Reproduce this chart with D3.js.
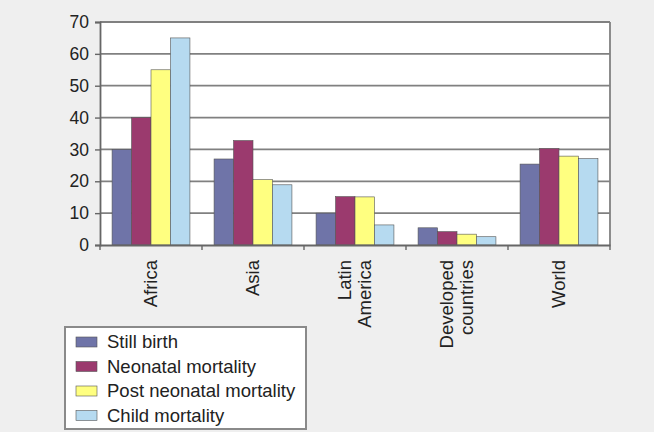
<!DOCTYPE html>
<html>
<head>
<meta charset="utf-8">
<script src="https://cdn.jsdelivr.net/npm/d3@7"></script>
<style>
  html, body { margin: 0; padding: 0; background: #efefef; }
  svg { display: block; }
  text { font-family: "Liberation Sans", Arial, sans-serif; fill: #222; }
</style>
</head>
<body>
<svg id="chart" width="654" height="432"></svg>
<script>
const categories = [["Africa"], ["Asia"], ["Latin", "America"], ["Developed", "countries"], ["World"]];
const seriesNames = ["Still birth", "Neonatal mortality", "Post neonatal mortality", "Child mortality"];
const stillBirth = [30, 27, 10, 5.4, 25.4];
const neonatal = [40, 32.8, 15.2, 4.2, 30.3];
const postNeonatal = [55, 20.5, 15.1, 3.4, 27.9];
const childMortality = [65, 18.9, 6.3, 2.6, 27.1];
const yTicks = [0, 10, 20, 30, 40, 50, 60, 70];
const colors = ["#6f74a8", "#9b3a6e", "#ffff80", "#b6daf0"];

const seriesValues = [stillBirth, neonatal, postNeonatal, childMortality];
const rows = categories.map((c, i) => ({
  key: c.join(" "), lines: c,
  values: seriesValues.map((s, j) => ({ series: j, value: s[i] }))
}));

const svg = d3.select("#chart");
const plot = { left: 100, right: 610, top: 22, bottom: 245 };

const x0 = d3.scaleBand().domain(rows.map(d => d.key))
  .range([plot.left, plot.right]).paddingInner(0).paddingOuter(0);
const x1 = d3.scaleBand().domain(d3.range(seriesNames.length))
  .range([0, x0.bandwidth()]).paddingInner(0).paddingOuter(0.62);
const y = d3.scaleLinear().domain([0, 70]).range([plot.bottom, plot.top]);

// plot background
svg.append("rect").attr("x", plot.left).attr("y", plot.top)
  .attr("width", plot.right - plot.left).attr("height", plot.bottom - plot.top)
  .attr("fill", "#ffffff");

// gridlines
svg.append("g").selectAll("line").data(yTicks.filter(t => t > 0)).join("line")
  .attr("x1", plot.left).attr("x2", plot.right)
  .attr("y1", d => y(d)).attr("y2", d => y(d))
  .attr("stroke", "#808080").attr("stroke-width", 1.8);

// right border
svg.append("line").attr("x1", plot.right).attr("x2", plot.right)
  .attr("y1", plot.top).attr("y2", plot.bottom)
  .attr("stroke", "#808080").attr("stroke-width", 1.8);

// bars
const groups = svg.append("g").selectAll("g").data(rows).join("g")
  .attr("transform", d => `translate(${x0(d.key)},0)`);
groups.selectAll("rect").data(d => d.values).join("rect")
  .attr("x", d => x1(d.series))
  .attr("width", x1.bandwidth())
  .attr("y", d => y(d.value))
  .attr("height", d => y(0) - y(d.value))
  .attr("fill", d => colors[d.series])
  .attr("stroke", "#555")
  .attr("stroke-width", 0.6);

// y axis
const yAxis = d3.axisLeft(y).tickValues(yTicks).tickSize(5).tickPadding(6);
const gy = svg.append("g").attr("transform", `translate(${plot.left},0)`).call(yAxis);
gy.select(".domain").attr("stroke", "#666").attr("stroke-width", 1.8);
gy.selectAll(".tick line").attr("stroke", "#666").attr("stroke-width", 1.4);
gy.selectAll(".tick text").style("font-size", "17.5px").attr("fill", "#222");

// x axis
const xAxis = d3.axisBottom(x0).tickSize(0).tickFormat("");
const gx = svg.append("g").attr("transform", `translate(0,${plot.bottom})`).call(xAxis);
gx.select(".domain").attr("stroke", "#666").attr("stroke-width", 1.8);
gx.selectAll(".tick").remove();
const bounds = rows.map(d => x0(d.key)).concat([plot.right]);
gx.selectAll("line.bt").data(bounds).join("line").attr("class", "bt")
  .attr("x1", d => d).attr("x2", d => d).attr("y1", 0).attr("y2", 5)
  .attr("stroke", "#666").attr("stroke-width", 1.4);

// category labels, rotated
const lab = svg.append("g").selectAll("text").data(rows).join("text")
  .attr("transform", d => `translate(${x0(d.key) + x0.bandwidth() / 2},${plot.bottom + 15}) rotate(-90)`)
  .attr("text-anchor", "end")
  .style("font-size", "18.5px");
lab.selectAll("tspan").data(d => d.lines.map((l, i) => ({ l, i, n: d.lines.length }))).join("tspan")
  .attr("x", 0)
  .attr("y", d => (d.i - (d.n - 1) / 2) * 20)
  .attr("dy", "0.35em")
  .text(d => d.l);

// legend
const legend = svg.append("g");
legend.append("rect").attr("x", 65).attr("y", 327).attr("width", 241).attr("height", 102)
  .attr("fill", "#ffffff").attr("stroke", "#8a8a8a").attr("stroke-width", 2);
const li = legend.selectAll("g.li").data(seriesNames).join("g").attr("class", "li")
  .attr("transform", (d, i) => `translate(0,${342 + i * 24.5})`);
li.append("rect").attr("x", 76).attr("y", -5).attr("width", 21).attr("height", 10)
  .attr("fill", (d, i) => colors[i]).attr("stroke", "#555").attr("stroke-width", 0.6);
li.append("text").attr("x", 107).attr("y", 0).attr("dy", "0.35em")
  .style("font-size", "18.5px").text(d => d);
</script>
</body>
</html>
